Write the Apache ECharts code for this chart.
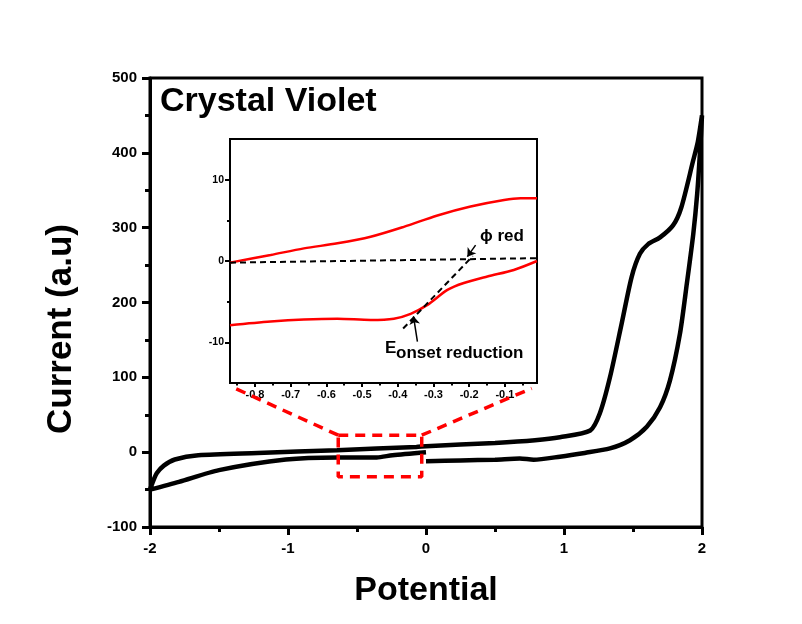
<!DOCTYPE html>
<html>
<head>
<meta charset="utf-8">
<title>Crystal Violet CV</title>
<script src="https://cdn.jsdelivr.net/npm/echarts@6/dist/echarts.min.js"></script>
<style>
  html, body { margin: 0; padding: 0; background: #fff; }
  #main { width: 802px; height: 624px; }
</style>
</head>
<body>
<div id="main"></div>
<script type="text/javascript">
// main CV loop: start at 0 V, sweep to +2, back to -2, then back to 0
var cvPotential = [
    0, 0.25, 0.5, 0.68, 0.78, 0.97, 1.15, 1.333, 1.478, 1.6, 1.696, 1.768, 1.84, 1.89, 1.937, 1.965, 1.985, 2.0,
    1.97, 1.935, 1.85, 1.79, 1.696, 1.61, 1.55, 1.49, 1.418, 1.333, 1.26, 1.19, 0.97, 0.79, 0.5, 0, -0.07, -0.645, -1.22, -1.65, -1.82, -1.9, -1.95, -1.98, -2.0,
    -1.79, -1.5, -1.016, -0.645, -0.357, -0.243, 0
];
var cvCurrent = [
    -12, -11, -10, -8.5, -10, -6, -1, 5, 16, 34, 60, 96, 158, 225, 292, 345, 400, 450,
    415, 389, 327, 303, 287, 278, 265, 234, 172, 100, 52, 29, 20, 16, 12.4, 8, 7, 2.7, -1, -4, -9.8, -18, -28, -40, -50,
    -39.6, -24, -9.8, -7, -7, -4, 0
];

// red dashed box marking the zoomed region, and the two connector lines
var boxPotential = [-0.636, -0.031, -0.031, -0.636, -0.636];
var boxCurrent = [22.7, 22.7, -33, -33, 22.7];
var connLeft = [[-0.636, 22.7], [-1.384, 85.3]];
var connRight = [[-0.031, 22.7], [0.766, 85.3]];

// inset (zoom) curves
var insetUpperX = [-0.87, -0.756, -0.663, -0.569, -0.476, -0.383, -0.289, -0.196, -0.102, -0.056, -0.01];
var insetUpperY = [-0.2, 0.74, 1.55, 2.17, 2.98, 4.2, 5.6, 6.7, 7.5, 7.7, 7.7];
var insetLowerX = [-0.87, -0.756, -0.663, -0.569, -0.476, -0.411, -0.364, -0.317, -0.261, -0.215, -0.149, -0.075, -0.01];
var insetLowerY = [-7.9, -7.45, -7.2, -7.1, -7.25, -7.1, -6.5, -5.4, -3.55, -2.7, -1.9, -1.1, 0.0];
var baseLine = [[-0.87, -0.2], [-0.01, 0.35]];
var tangentLine = [[-0.385, -8.3], [-0.19, 0.6]];
var arrowPhi = [[-0.182, 1.96], [-0.205, 0.53]];
var arrowOnset = [[-0.345, -9.9], [-0.356, -6.8]];

var insetXTicks = [-0.8, -0.7, -0.6, -0.5, -0.4, -0.3, -0.2, -0.1];
var insetXMinor = [-0.85, -0.75, -0.65, -0.55, -0.45, -0.35, -0.25, -0.15, -0.05];
var insetYTicks = [-10, 0, 10];
var insetYMinor = [-5, 5];

function zip(xs, ys) {
    var out = [];
    for (var i = 0; i < xs.length; i++) out.push([xs[i], ys[i]]);
    return out;
}

var FONT = '"Liberation Sans", Arial, sans-serif';
var myChart = echarts.init(document.getElementById('main'));

var option = {
    backgroundColor: '#fff',
    animation: false,
    grid: [
        { left: 150, right: 100, top: 78, bottom: 97, show: true, borderColor: '#000', borderWidth: 3 },
        { left: 230, top: 139, width: 307, height: 244, show: true, borderColor: '#000', borderWidth: 2, backgroundColor: '#fff', z: 5 }
    ],
    xAxis: [
        {
            gridIndex: 0, type: 'value', min: -2, max: 2, interval: 1,
            name: 'Potential', nameLocation: 'middle', nameGap: 47,
            nameTextStyle: { fontFamily: FONT, fontWeight: 'bold', fontSize: 34, color: '#000' },
            axisLine: { onZero: false, lineStyle: { color: '#000', width: 3 } },
            axisTick: { inside: false, length: 8, lineStyle: { color: '#000', width: 3 } },
            minorTick: { show: true, splitNumber: 2, length: 5, lineStyle: { color: '#000', width: 3 } },
            splitLine: { show: false },
            axisLabel: { margin: 14, fontFamily: FONT, fontWeight: 'bold', fontSize: 15, color: '#000' }
        },
        {
            gridIndex: 1, type: 'value', min: -0.87, max: -0.01, position: 'bottom', z: 6,
            axisLine: { onZero: false, lineStyle: { color: '#000', width: 2 } },
            axisTick: { inside: false, length: 4, customValues: insetXTicks, lineStyle: { color: '#000', width: 2 } },
            splitLine: { show: false },
            axisLabel: {
                margin: 6, customValues: insetXTicks, fontFamily: FONT, fontWeight: 'bold', fontSize: 11, color: '#000',
                formatter: function (v) { return v.toFixed(1); }
            }
        },
        {
            gridIndex: 1, type: 'value', min: -0.87, max: -0.01, position: 'bottom', z: 6,
            axisLine: { show: false, onZero: false },
            axisTick: { inside: false, length: 2.5, customValues: insetXMinor, lineStyle: { color: '#000', width: 2 } },
            splitLine: { show: false },
            axisLabel: { show: false }
        }
    ],
    yAxis: [
        {
            gridIndex: 0, type: 'value', min: -100, max: 500, interval: 100,
            axisLine: { onZero: false, lineStyle: { color: '#000', width: 3 } },
            axisTick: { inside: false, length: 8, lineStyle: { color: '#000', width: 3 } },
            minorTick: { show: true, splitNumber: 2, length: 5, lineStyle: { color: '#000', width: 3 } },
            splitLine: { show: false },
            axisLabel: { margin: 13, fontFamily: FONT, fontWeight: 'bold', fontSize: 15, color: '#000' }
        },
        {
            gridIndex: 1, type: 'value', min: -15, max: 15, position: 'left', z: 6,
            axisLine: { onZero: false, lineStyle: { color: '#000', width: 2 } },
            axisTick: { inside: false, length: 5, customValues: insetYTicks, lineStyle: { color: '#000', width: 2 } },
            splitLine: { show: false },
            axisLabel: { margin: 6, customValues: insetYTicks, fontFamily: FONT, fontWeight: 'bold', fontSize: 10.5, color: '#000' }
        },
        {
            gridIndex: 1, type: 'value', min: -15, max: 15, position: 'left', z: 6,
            axisLine: { show: false, onZero: false },
            axisTick: { inside: false, length: 3, customValues: insetYMinor, lineStyle: { color: '#000', width: 2 } },
            splitLine: { show: false },
            axisLabel: { show: false }
        }
    ],
    graphic: [
        { type: 'text', left: 160, top: 85, z: 10, style: { text: 'Crystal Violet', font: 'bold 34px ' + FONT, fill: '#000' } },
        {
            type: 'text', x: 61, y: 329, rotation: Math.PI / 2, z: 10,
            style: { text: 'Current (a.u)', font: 'bold 35px ' + FONT, fill: '#000', align: 'center', verticalAlign: 'middle' }
        },
        { type: 'text', left: 480, top: 228, z: 10, style: { text: '\u03d5 red', font: 'bold 17px ' + FONT, fill: '#000' } },
        { type: 'text', left: 385, top: 340, z: 10, style: { text: 'E', font: 'bold 17px ' + FONT, fill: '#000' } },
        { type: 'text', left: 396, top: 345, z: 10, style: { text: 'onset reduction', font: 'bold 17px ' + FONT, fill: '#000' } }
    ],
    series: [
        {
            name: 'CV', type: 'line', xAxisIndex: 0, yAxisIndex: 0,
            data: zip(cvPotential, cvCurrent), smooth: 0.25, showSymbol: false,
            lineStyle: { color: '#000', width: 4.5 }
        },
        {
            name: 'box', type: 'line', xAxisIndex: 0, yAxisIndex: 0,
            data: zip(boxPotential, boxCurrent), showSymbol: false,
            lineStyle: { color: '#f00', width: 3.5, type: [10, 7] }
        },
        {
            name: 'connL', type: 'line', xAxisIndex: 0, yAxisIndex: 0, data: connLeft, showSymbol: false,
            lineStyle: { color: '#f00', width: 3.5, type: [10, 7] }, z: 8
        },
        {
            name: 'connR', type: 'line', xAxisIndex: 0, yAxisIndex: 0, data: connRight, showSymbol: false,
            lineStyle: { color: '#f00', width: 3.5, type: [10, 7] }, z: 8
        },
        {
            name: 'inset upper', type: 'line', xAxisIndex: 1, yAxisIndex: 1, z: 7,
            data: zip(insetUpperX, insetUpperY), smooth: 0.3, showSymbol: false,
            lineStyle: { color: '#f00', width: 2.5 }
        },
        {
            name: 'inset lower', type: 'line', xAxisIndex: 1, yAxisIndex: 1, z: 7,
            data: zip(insetLowerX, insetLowerY), smooth: 0.3, showSymbol: false,
            lineStyle: { color: '#f00', width: 2.5 }
        },
        {
            name: 'baseline', type: 'line', xAxisIndex: 1, yAxisIndex: 1, z: 7,
            data: baseLine, showSymbol: false,
            lineStyle: { color: '#000', width: 2, type: [6, 4] }
        },
        {
            name: 'tangent', type: 'line', xAxisIndex: 1, yAxisIndex: 1, z: 7,
            data: tangentLine, showSymbol: false,
            lineStyle: { color: '#000', width: 2, type: [6, 4] },
            markLine: {
                silent: true, animation: false,
                symbol: ['none', 'arrow'], symbolSize: 8,
                label: { show: false },
                lineStyle: { color: '#000', width: 1.5, type: 'solid' },
                data: [
                    [{ coord: arrowPhi[0] }, { coord: arrowPhi[1] }],
                    [{ coord: arrowOnset[0] }, { coord: arrowOnset[1] }]
                ]
            }
        }
    ]
};

myChart.setOption(option);
</script>
</body>
</html>
